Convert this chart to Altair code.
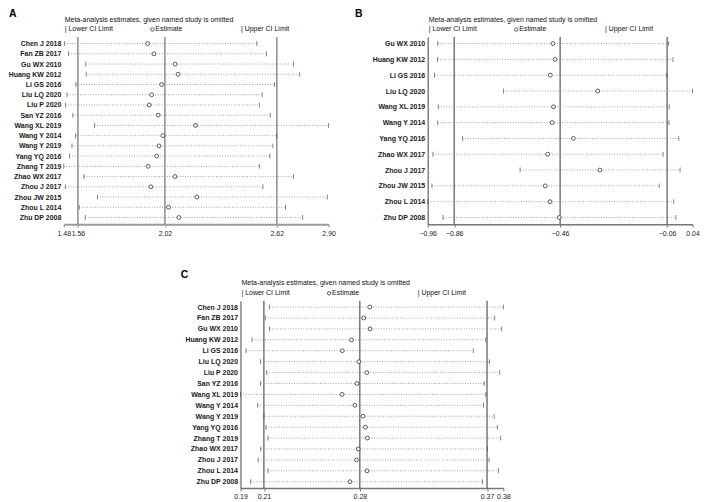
import altair as alt
import pandas as pd

FONT = "Liberation Sans"

title_text = "Meta-analysis estimates, given named study is omitted"
legend_lower = "| Lower CI Limit"
legend_est = "Estimate"
legend_upper = "| Upper CI Limit"

studies_a = ["Chen J 2018", "Fan ZB 2017", "Gu WX 2010", "Huang KW 2012", "Li GS 2016",
             "Liu LQ 2020", "Liu P 2020", "San YZ 2016", "Wang XL 2019", "Wang Y 2014",
             "Wang Y 2019", "Yang YQ 2016", "Zhang T 2019", "Zhao WX 2017", "Zhou J 2017",
             "Zhou JW 2015", "Zhou L 2014", "Zhu DP 2008"]
a_lower = [1.488, 1.510, 1.602, 1.604, 1.549, 1.502, 1.494, 1.533, 1.648, 1.547,
           1.528, 1.515, 1.4846, 1.592, 1.493, 1.664, 1.567, 1.599]
a_est = [1.932, 1.965, 2.078, 2.094, 2.006, 1.953, 1.940, 1.988, 2.187, 2.013,
         1.992, 1.980, 1.935, 2.077, 1.949, 2.194, 2.043, 2.098]
a_upper = [2.514, 2.564, 2.709, 2.742, 2.608, 2.542, 2.527, 2.585, 2.896, 2.620,
           2.599, 2.583, 2.527, 2.709, 2.546, 2.889, 2.666, 2.758]
a_overall = [1.56, 2.0236, 2.62]
a_ticks = [1.4846, 1.56, 2.0236, 2.62, 2.896]

studies_b = ["Gu WX 2010", "Huang KW 2012", "Li GS 2016", "Liu LQ 2020", "Wang XL 2019",
             "Wang Y 2014", "Yang YQ 2016", "Zhao WX 2017", "Zhou J 2017", "Zhou JW 2015",
             "Zhou L 2014", "Zhu DP 2008"]
b_lower = [-0.924, -0.925, -0.936, -0.676, -0.922, -0.924, -0.830, -0.942, -0.613, -0.946, -0.962, -0.904]
b_est = [-0.489, -0.481, -0.499, -0.320, -0.487, -0.492, -0.412, -0.509, -0.312, -0.518, -0.500, -0.465]
b_upper = [-0.052, -0.036, -0.059, 0.038, -0.050, -0.051, -0.014, -0.073, -0.009, -0.088, -0.033, -0.025]
b_overall = [-0.862, -0.462, -0.058]
b_ticks = [-0.962, -0.862, -0.462, -0.058, 0.038]

studies_c = ["Chen J 2018", "Fan ZB 2017", "Gu WX 2010", "Huang KW 2012", "Li GS 2016",
             "Liu LQ 2020", "Liu P 2020", "San YZ 2016", "Wang XL 2019", "Wang Y 2014",
             "Wang Y 2019", "Yang YQ 2016", "Zhang T 2019", "Zhao WX 2017", "Zhou J 2017",
             "Zhou L 2014", "Zhu DP 2008"]
c_lower = [0.2136, 0.2107, 0.2138, 0.2012, 0.1969, 0.2072, 0.2117, 0.2072, 0.1929, 0.2052,
           0.2097, 0.2112, 0.2126, 0.2074, 0.2055, 0.2126, 0.2002]
c_est = [0.2856, 0.2813, 0.2858, 0.2725, 0.2659, 0.2778, 0.2835, 0.2764, 0.2657, 0.2749,
         0.2808, 0.2825, 0.2839, 0.2773, 0.2761, 0.2837, 0.2714]
c_upper = [0.3814, 0.3752, 0.3802, 0.3688, 0.3598, 0.3714, 0.3788, 0.3677, 0.3688, 0.3672,
           0.3748, 0.3771, 0.3795, 0.3700, 0.3712, 0.3779, 0.3664]
c_overall = [0.2097, 0.2785, 0.3697]
c_ticks = [0.1929, 0.2097, 0.2785, 0.3697, 0.3814]


def one(col, val):
    return pd.DataFrame({col: [val]})


def panel(letter, letter_x, letter_y, studies, lower, est, upper, overall, ticks,
          width, height, pad, ref_color, ref_width, axis_color, axis_width, yline):
    df = pd.DataFrame({"study": studies, "lower": lower, "est": est, "upper": upper})
    xscale = alt.Scale(domain=[ticks[0], ticks[-1]], nice=False, zero=False)
    xaxis = alt.Axis(values=ticks, format=".2f", title=None, grid=False,
                     domainColor=axis_color, domainWidth=axis_width,
                     tickColor=axis_color, tickSize=3, tickWidth=1,
                     labelFontSize=7, labelPadding=2, labelColor="#222",
                     labelFlush=False, labelOverlap=False, labelFont=FONT)
    yaxis = alt.Axis(title=None, ticks=False, domain=yline, domainColor="#444",
                     domainWidth=1, labelPadding=3, labelFontSize=7, labelColor="#1a1a1a",
                     labelFontWeight="bold", labelFont=FONT, grid=False, labelLimit=200)
    yenc = alt.Y("study:N", sort=studies,
                 scale=alt.Scale(type="point", padding=pad), axis=yaxis)

    refs = alt.Chart(pd.DataFrame({"v": overall})).mark_rule(
        color=ref_color, strokeWidth=ref_width).encode(
        x=alt.X("v:Q", scale=xscale, axis=xaxis))
    base = alt.Chart(df)
    dotted = base.mark_rule(strokeDash=[1, 1.6], strokeWidth=0.8, color="#8a8a8a").encode(
        x=alt.X("lower:Q", scale=xscale, axis=xaxis), x2="upper:Q", y=yenc)
    lo = base.mark_tick(size=5, thickness=0.9, color="#444").encode(
        x=alt.X("lower:Q", scale=xscale), y=yenc)
    hi = base.mark_tick(size=5, thickness=0.9, color="#444").encode(
        x=alt.X("upper:Q", scale=xscale), y=yenc)
    pts = base.mark_point(shape="circle", filled=True, fill="white", stroke="#333",
                          strokeWidth=0.8, size=15, opacity=1).encode(
        x=alt.X("est:Q", scale=xscale), y=yenc)

    ttl = alt.Chart(one("t", title_text)).mark_text(
        align="left", baseline="middle", fontSize=7, font=FONT, color="#111").encode(
        text="t:N", x=alt.value(1), y=alt.value(-17.5))
    l1 = alt.Chart(one("t", legend_lower)).mark_text(
        align="left", baseline="middle", fontSize=7, font=FONT, color="#111").encode(
        text="t:N", x=alt.value(1), y=alt.value(-7.5))
    l2p = alt.Chart(one("t", legend_est)).mark_point(
        shape="circle", filled=True, fill="white", stroke="#333", strokeWidth=0.8,
        size=12, opacity=1).encode(x=alt.value(89), y=alt.value(-7.5))
    l2 = alt.Chart(one("t", legend_est)).mark_text(
        align="left", baseline="middle", fontSize=7, font=FONT, color="#111").encode(
        text="t:N", x=alt.value(92), y=alt.value(-7.5))
    l3 = alt.Chart(one("t", legend_upper)).mark_text(
        align="left", baseline="middle", fontSize=7, font=FONT, color="#111").encode(
        text="t:N", x=alt.value(178), y=alt.value(-7.5))
    let = alt.Chart(one("t", letter)).mark_text(
        align="left", baseline="top", fontSize=10.5, fontWeight="bold", font=FONT,
        color="#000").encode(text="t:N", x=alt.value(letter_x), y=alt.value(letter_y))

    return alt.layer(refs, dotted, lo, hi, pts, ttl, l1, l2p, l2, l3, let).properties(
        width=width, height=height)


A = panel("A", -55, -28, studies_a, a_lower, a_est, a_upper, a_overall, a_ticks,
          266, 188, 0.65, "#8c8c8c", 1.5, "#9a9a9a", 2, False)
B = panel("B", -73, -28, studies_b, b_lower, b_est, b_upper, b_overall, b_ticks,
          266, 188, 0.42, "#333", 1, "#777", 1.5, True)
C = panel("C", -60, -31, studies_c, c_lower, c_est, c_upper, c_overall, c_ticks,
          264, 188, 0.575, "#333", 1, "#777", 1.5, True)

spacer = alt.Chart(one("k", 0)).mark_point(opacity=0).encode(
    x=alt.value(0), y=alt.value(0)).properties(width=170, height=188)

top = alt.hconcat(A, B, spacing=99.5, bounds="flush")
bottom = alt.hconcat(spacer, C, spacing=7.5, bounds="flush")
chart = alt.vconcat(top, bottom, spacing=265, bounds="flush").properties(
    padding=0, background="white").configure_view(stroke=None)

chart.save("out.html", embed_options={"renderer": "svg", "actions": False})
